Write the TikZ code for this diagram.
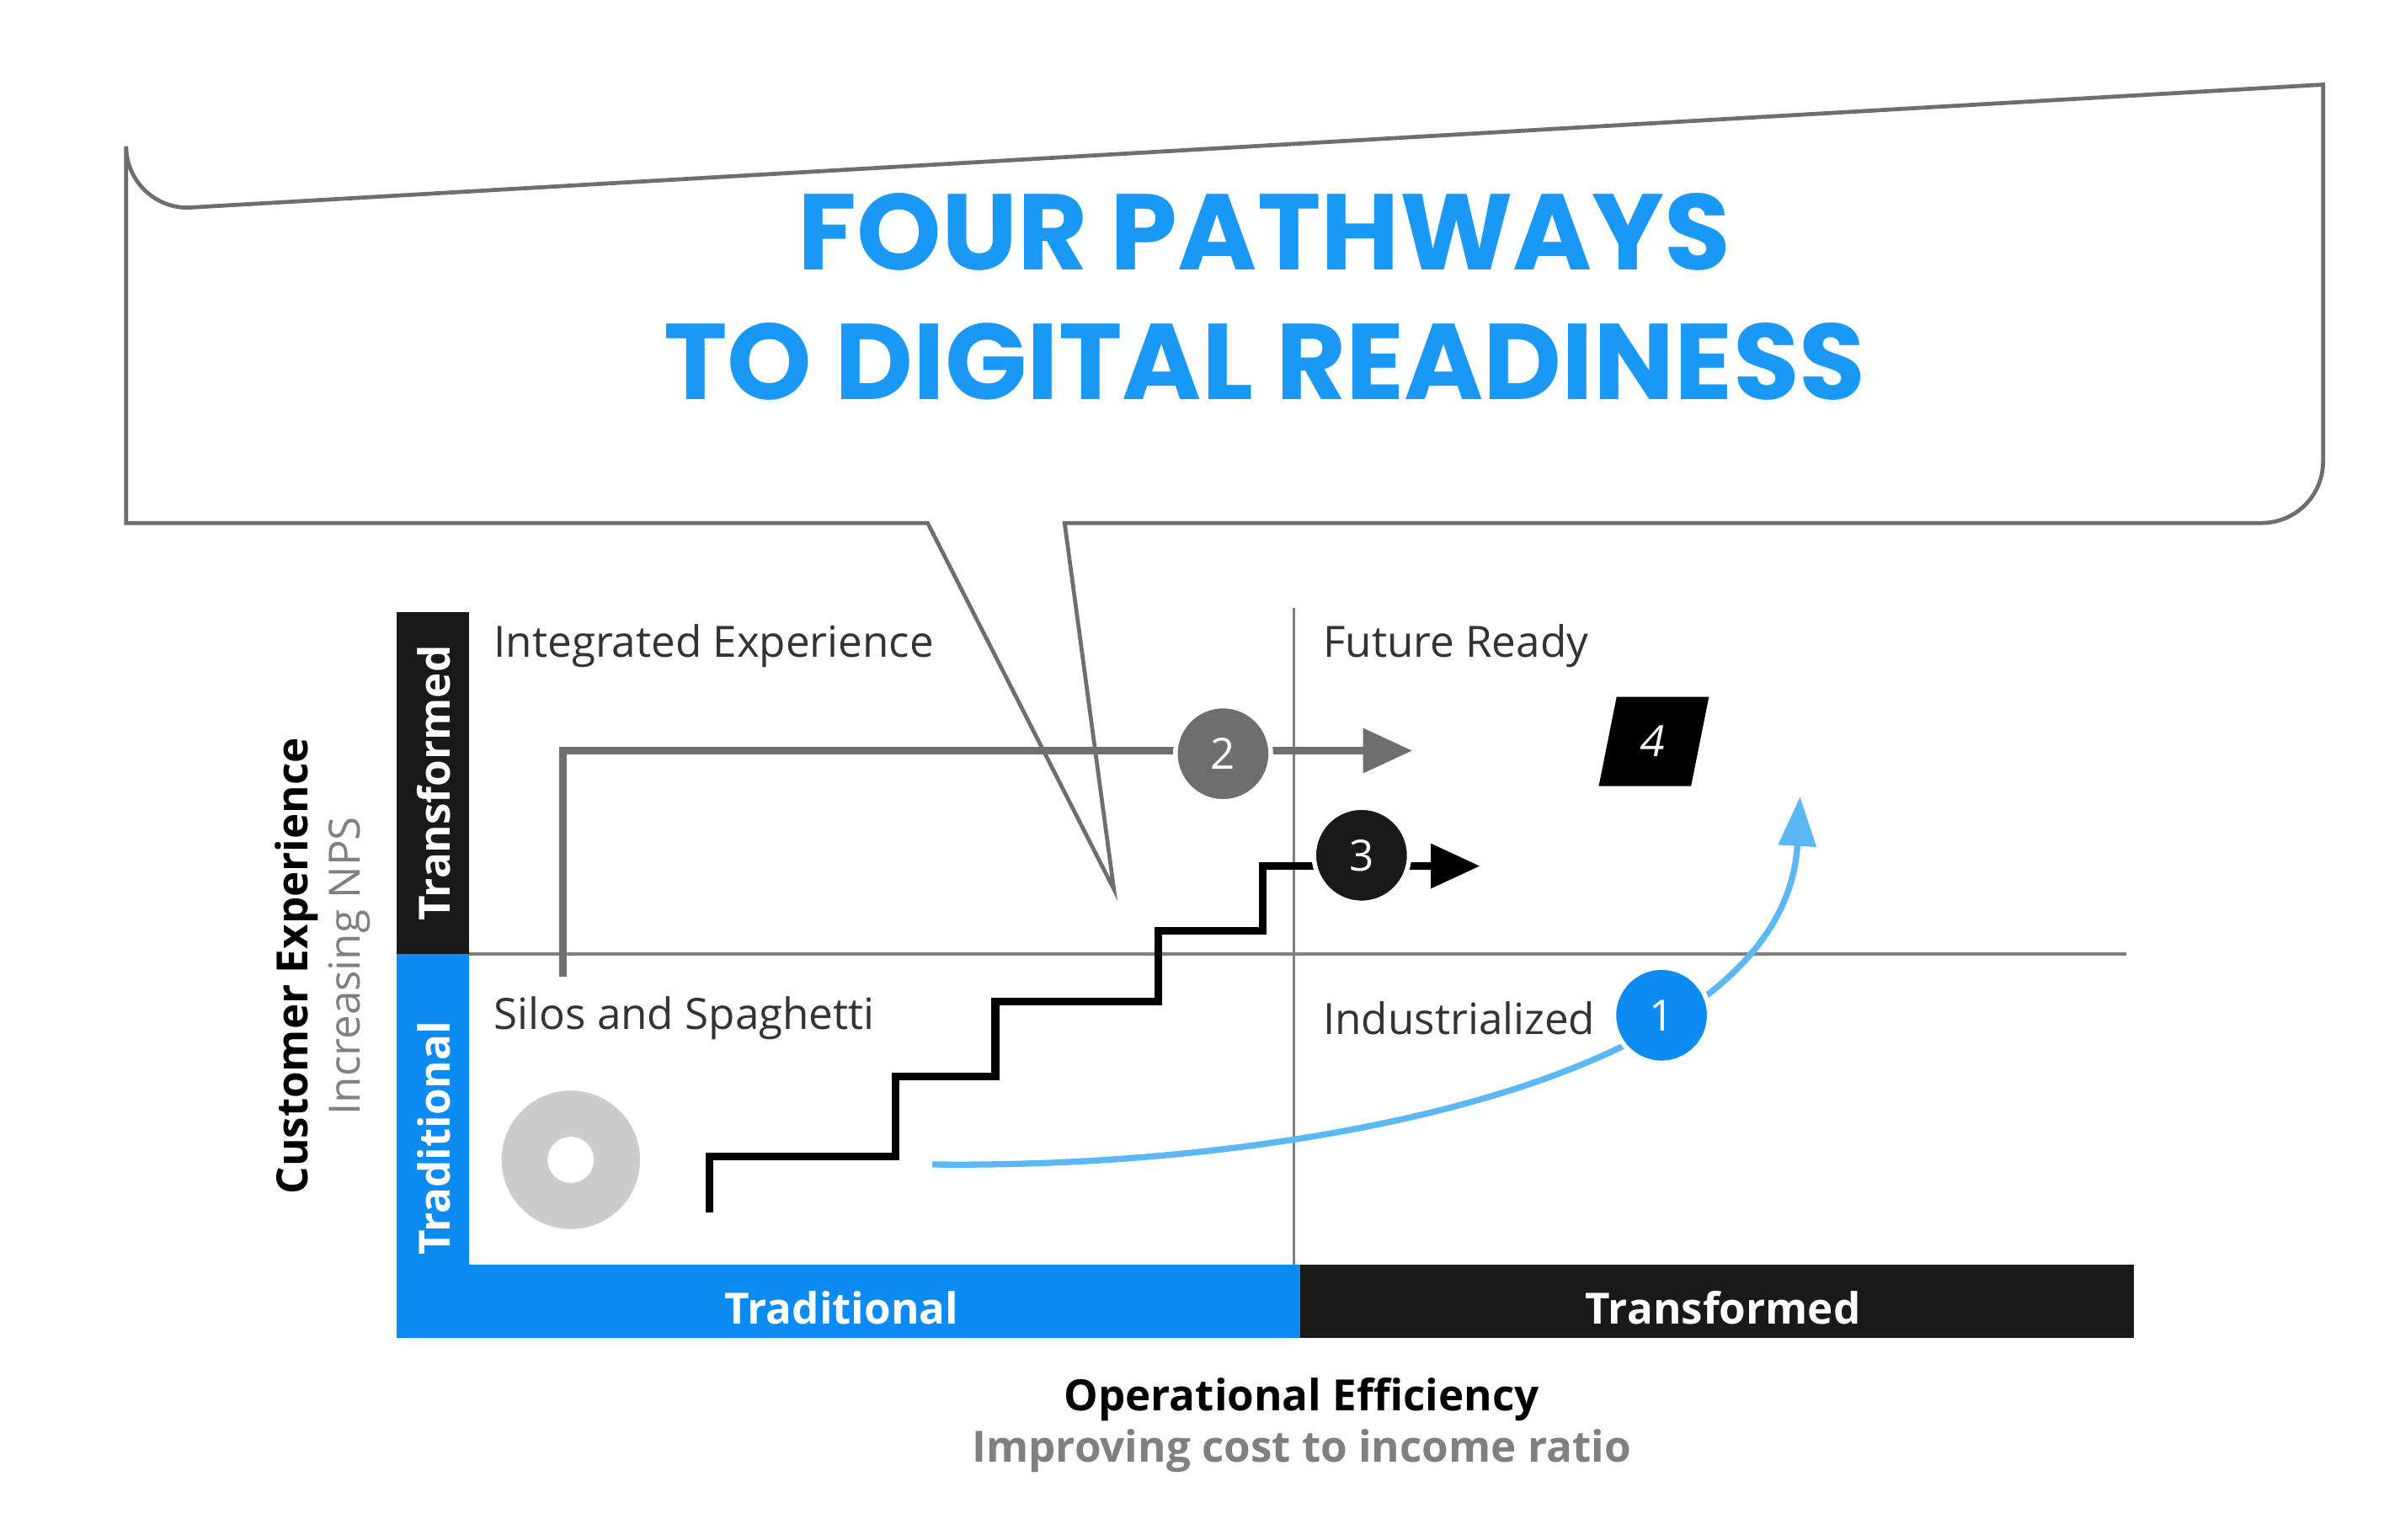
\documentclass[tikz,border=0pt]{standalone}
\usepackage{fontspec}
\setmainfont{Open Sans}
\newfontfamily\titlefont{Poppins}
\usetikzlibrary{arrows.meta}
\definecolor{tblue}{HTML}{1A98F5}
\definecolor{mblue}{HTML}{0C8CF2}
\definecolor{lblue}{HTML}{5BB8F5}
\definecolor{dgray}{HTML}{333333}
\definecolor{mgray}{HTML}{6E6E6E}
\definecolor{lgray}{HTML}{808080}
\begin{document}
\begin{tikzpicture}[x=0.5pt,y=-0.5pt,
  lbl/.style={anchor=west,text=dgray,font=\fontsize{14}{16}\selectfont},
  barlbl/.style={text=white,font=\bfseries\fontsize{14}{16}\selectfont},
  num/.style={circle,minimum size=31pt,inner sep=0pt,draw=white,line width=1.5pt,text=white,font=\fontsize{14}{16}\selectfont}]
\useasboundingbox[fill=white] (0,0) rectangle (1560,1001);
% callout
\draw[mgray,line width=1.3pt,fill=white] (82,340) -- (82,95) arc[start angle=180,end angle=90,radius=40] -- (1510,55) -- (1510,300) arc[start angle=0,end angle=90,radius=40] -- (692,340) -- (724,578) -- (603,340) -- cycle;
\node[text=tblue,font=\titlefont\bfseries\fontsize{35}{42}\selectfont,align=center] (title) at (822,193) {FOUR PATHWAYS\\TO DIGITAL READINESS};
% grid lines
\draw[lgray,line width=1pt] (841,395) -- (841,822);
\draw[lgray,line width=1pt] (305,620) -- (1382,620);
% bars
\fill[black!90] (258,398) rectangle (305,620);
\fill[mblue] (258,620) rectangle (305,870);
\fill[mblue] (258,822) rectangle (845,870);
\fill[black!90] (845,822) rectangle (1387,870);
\node[barlbl,rotate=90] (vt) at (282,509) {Transformed};
\node[barlbl,rotate=90] (vtr) at (282,740) {Traditional};
\node[barlbl] (ht) at (547,850) {Traditional};
\node[barlbl] (htr) at (1120,850) {Transformed};
% quadrant labels
\node[lbl] (q1) at (314,420) {Integrated Experience};
\node[lbl] (q2) at (853,420) {Future Ready};
\node[lbl] (q3) at (314,662) {Silos and Spaghetti};
\node[lbl] (q4) at (853,662) {Industrialized};
% axis titles
\node[rotate=90,font=\bfseries\fontsize{14}{16}\selectfont] (ya) at (193,628) {Customer Experience};
\node[rotate=90,text=lgray,font=\fontsize{14}{16}\selectfont] (yb) at (227,628) {Increasing NPS};
\node[font=\bfseries\fontsize{14}{16}\selectfont] (xa) at (846,910) {Operational Efficiency};
\node[text=lgray,font=\bfseries\fontsize{14}{16}\selectfont] (xb) at (846,943) {Improving cost to income ratio};
% donut
\fill[black!20] (371,754) circle[radius=45];
\fill[white] (371,754) circle[radius=15];
% path 2
\coordinate (p2s) at (366,635);
\coordinate (p2e) at (918,488);
\draw[mgray,line width=2.5pt,-{Triangle[length=16pt,width=14pt]}] (p2s) |- (p2e);
\node[num,fill=mgray] (n2) at (795,490) {2};
% path 3
\coordinate (p3s) at (461,788);
\coordinate (p3e) at (962,563);
\draw[black,line width=2.5pt,-{Triangle[length=16pt,width=14pt]}] (p3s) -- (461,752) -- (582,752) -- (582,700) -- (647,700) -- (647,651) -- (753,651) -- (753,605) -- (821,605) -- (821,563) -- (p3e);
\node[num,fill=black!90] (n3) at (885,556) {3};
% 4
\node[fill=black,text=white,minimum width=30pt,minimum height=29pt,xslant=0.2,font=\fontsize{14}{16}\selectfont] (n4) at (1075,482) {4};
% path 1
\coordinate (p1s) at (606,757);
\coordinate (p1e) at (1170,518);
\draw[lblue,line width=2pt,-{Triangle[length=16pt,width=12pt]}] (p1s) .. controls (850,760) and (1160,700) .. (p1e);
\node[num,fill=mblue] (n1) at (1080,660) {1};
\end{tikzpicture}
\end{document}
